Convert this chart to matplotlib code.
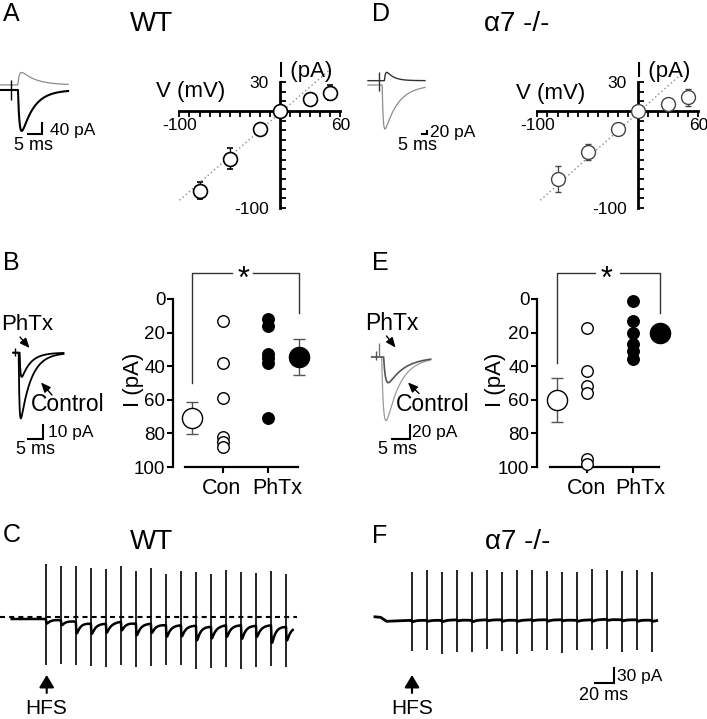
import numpy as np
import matplotlib
matplotlib.use("Agg")
import matplotlib.pyplot as plt

plt.rcParams['font.family'] = ['Liberation Sans', 'DejaVu Sans']

W, H = 707, 719

# ---------------- data ----------------
# I-V relations (A, D)
iv_v = [-80, -50, -20, 0, 30, 50]
wt_iv_i = [-82, -49, -19, 0, 12, 19]
wt_iv_err = [9, 11, 3, 0, 4, 8]
ko_iv_i = [-70, -42, -19, 0, 7, 14]
ko_iv_err = [13, 8, 3, 0, 3, 9]
wt_fit_v = [-100, 50]
wt_fit_i = [-92, 43]
ko_fit_v = [-97, 45]
ko_fit_i = [-92, 40]

# PhTx block (B, E)
groups = ['Con', 'PhTx']
wt_con = [13, 38, 59, 82, 85, 88]
wt_phtx = [12, 16, 33, 35, 38, 71]
wt_mean = [71, 34.5]
wt_sem = [9.5, 10.5]
ko_con = [17, 43, 52, 56, 95, 98]
ko_phtx = [1, 13, 20, 27, 31, 36]
ko_mean = [60, 20.5]
ko_sem = [13, 2]

# example EPSC traces: [inward, outward] or [Control, PhTx]  (pA, ms)
wt_iv_amp = [-145, 44]
wt_iv_peak = [8.1, 8.1]
wt_iv_decay = [4.5, 5.3]
wt_iv_offset = [0, 18]
ko_iv_amp = [-264, 50]
ko_iv_peak = [17, 18.7]
ko_iv_decay = [13.5, 7.0]
ko_iv_offset = [0, 26]
wt_ph_amp = [-46, -17]
wt_ph_peak = [2.5, 2.8]
wt_ph_decay = [3.5, 3.0]
ko_ph_amp = [-89, -36]
ko_ph_peak = [3.9, 4.5]
ko_ph_decay = [3.8, 4.5]

# HFS trains (C, F): 17 stimuli
hfs_t0_wt = 36.0
hfs_t0_ko = 38.6
hfs_interval = 15.8
wt_pre_t = [0]
wt_pre_i = [0]
wt_base = [0, -2, -5, -9, -9, -5, -9, -9, -12, -12, -13, -15, -12, -12, -13, -12, -15]
wt_epsc = [-9, -10, -23, -20, -18, -17, -23, -18, -23, -22, -29, -23, -23, -27, -22, -35, -27]
wt_art_top = [111, 107, 106, 103, 100, 106, 96, 103, 91, 96, 95, 91, 98, 95, 93, 96, 90]
wt_art_bot = [-91, -89, -91, -93, -95, -92, -95, -93, -92, -91, -99, -97, -95, -99, -95, -93, -95]
ko_pre_t = [0, 6, 12, 25]
ko_pre_i = [3, 2, -6, -5]
ko_base = [-4, -4, -4, -3, -4, -3, -3, -4, -3, -3, -3, -4, -3, -2, -3, -3, -4]
ko_epsc = [-3, -2, -3, -2, -3, -2, -3, -2, -2, -3, -2, -2, -3, -2, -2, -3, -2]
ko_art_top = [93, 97, 93, 97, 92, 97, 93, 97, 97, 95, 93, 92, 98, 97, 95, 97, 92]
ko_art_bot = [-65, -63, -71, -68, -67, -61, -65, -71, -65, -63, -70, -63, -63, -61, -68, -63, -68]

# ---------------- helpers ----------------
fig = plt.figure(figsize=(W / 100, H / 100), dpi=100)


def px_axes(left, top, width, height):
    return fig.add_axes([left / W, 1 - (top + height) / H, width / W, height / H])


def T(x, y, s, size, ha='center', va='center', **kw):
    fig.text(x / W, 1 - y / H, s, fontsize=size, ha=ha, va=va, **kw)


def arrow(tail, tip, hl=0.58, hw=0.25, lw=1.0):
    fig.add_artist(matplotlib.patches.FancyArrowPatch(
        (tail[0] / W, 1 - tail[1] / H), (tip[0] / W, 1 - tip[1] / H),
        transform=fig.transFigure, arrowstyle=f'-|>,head_length={hl},head_width={hw}',
        mutation_scale=10, lw=lw, color='k', shrinkA=0, shrinkB=0))


def epsc(t, t_peak, amp, tr, td):
    tp = tr * td / (td - tr) * np.log(td / tr)
    dt = np.clip(t - (t_peak - tp), 0, None)
    norm = np.exp(-tp / td) - np.exp(-tp / tr)
    return amp * (np.exp(-dt / td) - np.exp(-dt / tr)) / norm


def trace_axes(left, top, width, height, ox, oy, ms_px, pa_px):
    ax = px_axes(left, top, width, height)
    ax.set_xlim((left - ox) * ms_px, (left + width - ox) * ms_px)
    ax.set_ylim((oy - (top + height)) * pa_px, (oy - top) * pa_px)
    ax.axis('off')
    return ax


# ---------------- I-V panels ----------------
def iv_panel(ox, oy, ii, err, fv, fi, mec, mew):
    left, right, top, bottom = ox - 112, ox + 68, 55, 222
    sx, sy = 1.006, 0.97
    ax = px_axes(left, top, right - left, bottom - top)
    ax.set_xlim((left - ox) / sx, (right - ox) / sx)
    ax.set_ylim((oy - bottom) / sy, (oy - top) / sy)
    ax.patch.set_visible(False)
    for s in ['top', 'right']:
        ax.spines[s].set_visible(False)
    ax.spines['left'].set_position(('data', 0))
    ax.spines['bottom'].set_position(('data', 0))
    ax.spines['left'].set_bounds(-100, 30)
    ax.spines['bottom'].set_bounds(-100, 60)
    for s in ['left', 'bottom']:
        ax.spines[s].set_linewidth(2.0)
    xt = np.arange(-100, 61, 10)
    ax.set_xticks(xt)
    ax.set_xticklabels(['-100' if v == -100 else ('60' if v == 60 else '') for v in xt])
    yt = np.arange(-100, 31, 10)
    ax.set_yticks(yt)
    ax.set_yticklabels(['-100' if v == -100 else ('30' if v == 30 else '') for v in yt])
    ax.tick_params(axis='x', direction='out', length=4, width=1.3, labelsize=12.5, pad=1)
    ax.tick_params(axis='y', direction='in', length=4, width=1.3, labelsize=12.5, pad=8)
    ax.plot(fv, fi, ls=(0, (1, 2)), color='#8a8a8a', lw=1.0, zorder=1)
    ax.errorbar(iv_v, ii, yerr=err, fmt='o', ms=10, mfc='white', mec=mec, mew=mew,
                ecolor=mec, elinewidth=0.9, capsize=2, zorder=5, clip_on=False)
    return ax


iv_panel(280, 111, wt_iv_i, wt_iv_err, wt_fit_v, wt_fit_i, 'k', 1.2)
iv_panel(638, 111, ko_iv_i, ko_iv_err, ko_fit_v, ko_fit_i, '#444444', 1.0)
T(191, 92, 'V (mV)', 16)
T(305, 71, 'I (pA)', 16)
T(551, 94, 'V (mV)', 16)
T(663, 71, 'I (pA)', 16)

# ---------------- strip panels ----------------
def strip_panel(x0, ppu, spine_px, con, phtx, mean, sem, mean_x, brk_left, brk_right, gap, star_x, lab_x):
    left, right, top, bottom = spine_px - 8, spine_px + 150, 255, 472
    ax = px_axes(left, top, right - left, bottom - top)
    sy = 1.68
    ax.set_xlim((left - x0) / ppu, (right - x0) / ppu)
    ax.set_ylim((bottom - 299) / sy, (top - 299) / sy)
    ax.patch.set_visible(False)
    for s in ['top', 'right']:
        ax.spines[s].set_visible(False)
    ax.spines['left'].set_position(('data', (spine_px - x0) / ppu))
    ax.spines['left'].set_bounds(0, 100)
    ax.spines['bottom'].set_position(('data', 100))
    ax.spines['bottom'].set_bounds(mean_x[0] - 0.15, mean_x[1] - 0.02)
    for s in ['left', 'bottom']:
        ax.spines[s].set_linewidth(1.6)
    ax.set_yticks([0, 20, 40, 60, 80, 100])
    ax.set_xticks([1, 2])
    ax.set_xticklabels([])
    for xl, g in zip(lab_x, groups):
        T(xl, 488, g, 15.5)
    ax.tick_params(axis='y', direction='out', length=4, width=1.5, labelsize=13.5, pad=1.5)
    ax.tick_params(axis='x', direction='out', length=4, width=1.5)
    ax.plot([1] * len(con), con, 'o', ms=8.3, mfc='white', mec='k', mew=1.0, clip_on=False, zorder=4)
    ax.plot([2] * len(phtx), phtx, 'o', ms=8.3, mfc='k', mec='k', mew=1.0, clip_on=False, zorder=4)
    ax.errorbar([mean_x[0]], [mean[0]], yerr=[sem[0]], fmt='o', ms=14.5, mfc='white', mec='k', mew=1.0,
                ecolor='#555555', elinewidth=1.0, capsize=4, zorder=5, clip_on=False)
    ax.errorbar([mean_x[1]], [mean[1]], yerr=[sem[1]], fmt='o', ms=14.5, mfc='k', mec='k', mew=1.0,
                ecolor='#555555', elinewidth=1.0, capsize=4, zorder=5, clip_on=False)
    yb = -15.3
    ax.plot([mean_x[0], mean_x[0], gap[0]], [brk_left, yb, yb], color='#333333', lw=1.0, clip_on=False)
    ax.plot([gap[1], mean_x[1], mean_x[1]], [yb, yb, brk_right], color='#333333', lw=1.0, clip_on=False)
    ax.text(star_x, yb + 4, '*', fontsize=22, ha='center', va='center')
    return ax


strip_panel(178, 45, 173, wt_con, wt_phtx, wt_mean, wt_sem, [0.31, 2.69], 50, 8.3, [1.2, 1.67], 1.46, [221, 277])
strip_panel(541, 46, 537, ko_con, ko_phtx, ko_mean, ko_sem, [0.35, 2.59], 38, 8.3, [1.17, 1.72], 1.43, [586, 640])
T(134, 380, 'I (pA)', 16, rotation=90)
T(496, 380, 'I (pA)', 16, rotation=90)

# ---------------- small EPSC insets ----------------
# A
ax = trace_axes(0, 62, 100, 95, 0, 90, 0.373, 3.54)
t = np.linspace(0, 25.4, 600)
ax.plot(t, wt_iv_offset[1] + epsc(t, wt_iv_peak[1], wt_iv_amp[1], 0.6, wt_iv_decay[1]), color='#8c8c8c', lw=0.9)
ax.plot(t, wt_iv_offset[0] + epsc(t, wt_iv_peak[0], wt_iv_amp[0], 0.6, wt_iv_decay[0]), color='k', lw=1.5)
ax.vlines(4.0, -35, 35, color='k', lw=1.0)
ax.plot([10.55, 15.55, 15.55], [-155.8, -155.8, -115.8], color='k', lw=1.5, solid_joinstyle='miter')
T(50, 131, '40 pA', 12.5, ha='left')
T(34, 146, '5 ms', 13)

# D
ax = trace_axes(362, 62, 120, 95, 368, 85, 1.0, 6.0)
t = np.linspace(0, 57, 600)
ax.plot(t, ko_iv_offset[0] + epsc(t, ko_iv_peak[0], ko_iv_amp[0], 1.0, ko_iv_decay[0]), color='#8c8c8c', lw=0.9)
ax.plot(t, ko_iv_offset[1] + epsc(t, ko_iv_peak[1], ko_iv_amp[1], 1.0, ko_iv_decay[1]), color='#333333', lw=1.0)
ax.vlines(11.0, -34, 80, color='#333333', lw=1.0)
ax.plot([53.7, 58.7, 58.7], [-294, -294, -274], color='k', lw=1.5, solid_joinstyle='miter')
T(430, 132, '20 pA', 12.5, ha='left')
T(418, 145, '5 ms', 13)

# B
ax = trace_axes(0, 335, 110, 130, 13.3, 352.7, 0.333, 0.7)
t = np.linspace(0, 16.7, 600)
ax.plot(t, epsc(t, wt_ph_peak[1], wt_ph_amp[1], 0.25, wt_ph_decay[1]), color='k', lw=1.3)
ax.plot(t, epsc(t, wt_ph_peak[0], wt_ph_amp[0], 0.25, wt_ph_decay[0]), color='k', lw=1.3)
ax.vlines(0.5, -2, 3, color='k', lw=1.0)
ax.plot([5, 10, 10], [-60.6, -60.6, -50.6], color='k', lw=1.5, solid_joinstyle='miter')
T(48, 432, '10 pA', 12.5, ha='left')
T(36, 450, '5 ms', 13)
T(1, 324, 'PhTx', 16, ha='left')
T(67.5, 404, 'Control', 16.5)
arrow((20, 337), (29.5, 348))
arrow((52, 395), (41, 382.5))

# E
ax = trace_axes(362, 335, 110, 130, 371.7, 357, 0.273, 1.4)
t = np.linspace(0, 16.1, 600)
ax.plot(t, epsc(t, ko_ph_peak[0], ko_ph_amp[0], 0.5, ko_ph_decay[0]), color='#9a9a9a', lw=0.9)
ax.plot(t, epsc(t, ko_ph_peak[1], ko_ph_amp[1], 0.5, ko_ph_decay[1]), color='#555555', lw=1.2)
ax.vlines(1.2, -4, 8, color='#555555', lw=1.0)
ax.vlines(2.1, 0, 19, color='#777777', lw=1.0)
ax.plot([5.46, 10.46, 10.46], [-115.2, -115.2, -95.2], color='k', lw=1.5, solid_joinstyle='miter')
T(412, 432, '20 pA', 12.5, ha='left')
T(397.5, 450, '5 ms', 13)
T(391.7, 324, 'PhTx', 16.5)
T(433, 404, 'Control', 16.5)
arrow((386.5, 336), (395.5, 347.5))
arrow((419, 393.5), (408, 382.5))

# ---------------- HFS trains ----------------
def train(ax, t0, t_end, pre_t, pre_i, base, amps, tops, bots, tr, td, lw):
    stim = t0 + hfs_interval * np.arange(len(base))
    t = np.linspace(0, t_end, 4000)
    y = np.interp(t, np.concatenate([pre_t, stim]), np.concatenate([pre_i, base]))
    for s, a in zip(stim, amps):
        y = y + epsc(t, s + 1.0, a, tr, td)
    ax.plot(t, y, color='k', lw=lw, zorder=3)
    ax.vlines(stim, bots, tops, color='k', lw=1.2, zorder=4)
    return stim


# C
ax = trace_axes(0, 555, 300, 120, 11.7, 619, 20 / 19, 2.0)
train(ax, hfs_t0_wt, 295.8, wt_pre_t, wt_pre_i, wt_base, wt_epsc, wt_art_top, wt_art_bot, 0.4, 4.0, 1.8)
ax.hlines(3.4, -12.3, 300, color='k', lw=1.5, linestyles=(0, (2.4, 2.0)), zorder=2)

# F
ax = trace_axes(360, 555, 310, 135, 375, 618.3, 20 / 19, 2.0)
train(ax, hfs_t0_ko, 296.5, ko_pre_t, ko_pre_i, ko_base, ko_epsc, ko_art_top, ko_art_bot, 0.4, 3.0, 2.0)
ax.plot([231.6, 251.6, 251.6], [-129.4, -129.4, -99.4], color='k', lw=1.5, solid_joinstyle='miter')
T(617, 676, '30 pA', 12.5, ha='left')
T(604, 696, '20 ms', 13)

arrow((46.7, 693), (46.7, 675), hl=0.75, hw=0.45, lw=1.5)
arrow((412, 693), (412, 675), hl=0.75, hw=0.45, lw=1.5)
T(46, 708, 'HFS', 15)
T(412, 708, 'HFS', 15)

# ---------------- titles and panel letters ----------------
T(152, 24, 'WT', 20)
T(517, 24, 'α7 -/-', 20)
T(152, 542, 'WT', 20)
T(518, 542, 'α7 -/-', 20)
for x, y, s in [(3, 14, 'A'), (372, 14, 'D'), (3, 263, 'B'), (372, 263, 'E'), (3, 535, 'C'), (372, 536, 'F')]:
    T(x, y, s, 18, ha='left')

fig.savefig('out.png', dpi=100)
